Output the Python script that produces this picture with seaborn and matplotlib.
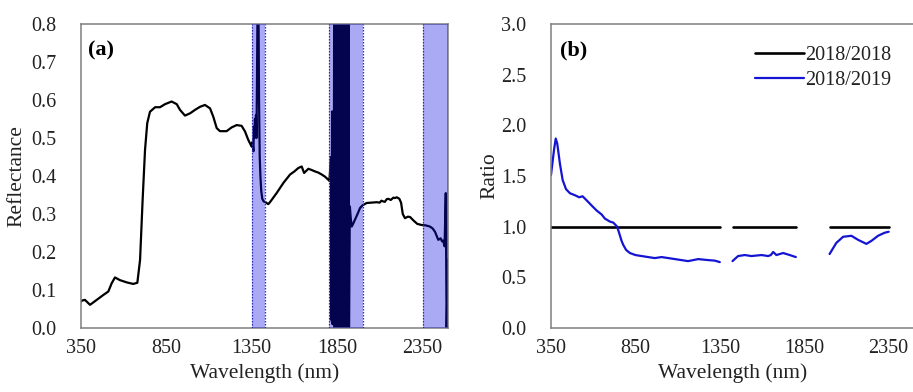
import numpy as np
import pandas as pd
import matplotlib
matplotlib.use("Agg")
import matplotlib.pyplot as plt
from matplotlib.lines import Line2D
import seaborn as sns

# ---------------- data ----------------
# Panel (a): reflectance spectrum
wl_a = [350, 354, 373, 403, 442, 481, 510, 530, 549, 578, 618, 656, 680, 696, 711, 725, 738, 754,
        784, 813, 842, 881, 911, 930, 959, 989, 1018, 1047, 1076, 1106, 1125, 1145, 1164, 1203,
        1233, 1262, 1291, 1311, 1330, 1350,
        1355, 1360, 1363, 1366, 1369, 1372, 1375, 1378, 1381, 1384, 1387, 1390, 1393, 1397, 1401,
        1406, 1412, 1420, 1428, 1438, 1447, 1457, 1496, 1536, 1575, 1600, 1623, 1643, 1657, 1682,
        1700, 1721, 1740, 1760, 1780, 1799, 1805, 1815,
        1818, 1821, 1824, 1827, 1830, 1833, 1836, 1839, 1842, 1845, 1848, 1851, 1854, 1857, 1860,
        1863, 1866, 1869, 1872, 1875, 1878, 1881, 1884, 1887, 1890, 1893, 1896, 1899, 1902, 1905,
        1908, 1911, 1914, 1917, 1920,
        1925, 1930, 1936, 1945, 1955, 1970, 1985, 2000, 2024, 2050, 2082, 2100, 2110, 2121, 2130,
        2141, 2150, 2165, 2180, 2190, 2200, 2215, 2225, 2235, 2248, 2265, 2278, 2300, 2320, 2346,
        2370, 2394, 2410, 2424, 2443, 2457, 2465, 2472, 2480, 2487, 2492, 2500]
refl_a = [0.069, 0.072, 0.074, 0.061, 0.074, 0.087, 0.096, 0.118, 0.133, 0.126, 0.120, 0.116, 0.119,
          0.179, 0.337, 0.468, 0.539, 0.569, 0.581, 0.581, 0.589, 0.596, 0.589, 0.574, 0.559, 0.565,
          0.574, 0.582, 0.587, 0.578, 0.556, 0.526, 0.518, 0.518, 0.528, 0.534, 0.532, 0.517, 0.495,
          0.477,
          0.49, 0.465, 0.53, 0.50, 0.55, 0.52, 0.56, 0.50, 0.65, 0.85, 0.95, 0.82, 0.60, 0.45, 0.40,
          0.36, 0.34, 0.333, 0.332, 0.329, 0.326, 0.331, 0.355, 0.382, 0.404, 0.412, 0.421, 0.425,
          0.408, 0.419, 0.416, 0.412, 0.409, 0.404, 0.398, 0.390, 0.387, 0.45,
          0.02, 0.57, 0.01, 0.56, 0.03, 0.85, 0.0, 0.85, 0.02, 0.85, 0.0, 0.85, 0.01, 0.85, 0.0,
          0.85, 0.02, 0.85, 0.0, 0.85, 0.01, 0.85, 0.0, 0.85, 0.02, 0.85, 0.0, 0.85, 0.01, 0.85,
          0.0, 0.85, 0.02, 0.85, 0.0,
          0.32, 0.29, 0.267, 0.275, 0.285, 0.300, 0.316, 0.323, 0.329, 0.330, 0.331, 0.330, 0.335,
          0.333, 0.332, 0.339, 0.340, 0.337, 0.343, 0.342, 0.344, 0.340, 0.330, 0.300, 0.289,
          0.293, 0.292, 0.282, 0.274, 0.271, 0.270, 0.267, 0.262, 0.253, 0.232, 0.236, 0.228,
          0.230, 0.215, 0.355, 0.0, 0.18]

# Excluded (noisy) bands shown shaded in panel (a)
band_lo = [1350, 1800, 2355]
band_hi = [1425, 2000, 2500]

# Panel (b): ratio spectra, three segments
seg_id_b = [1] * 35 + [2] * 12 + [3] * 10
wl_b = [350, 368, 378, 387, 403, 419, 439, 462, 492, 517, 537, 561, 590, 620, 650, 669, 699,
        719, 742, 755, 768, 778, 795, 817, 850, 887, 925, 965, 1005, 1084, 1162, 1222, 1281,
        1320, 1350,
        1425, 1458, 1498, 1537, 1597, 1636, 1652, 1666, 1685, 1725, 1764, 1800,
        2000, 2040, 2080, 2129, 2169, 2218, 2248, 2287, 2326, 2350]
ratio_1819 = [1.51, 1.76, 1.87, 1.82, 1.62, 1.46, 1.37, 1.33, 1.31, 1.29, 1.30, 1.26, 1.21, 1.16,
              1.12, 1.08, 1.05, 1.04, 1.00, 0.93, 0.86, 0.82, 0.77, 0.74, 0.72, 0.71, 0.70, 0.69,
              0.70, 0.68, 0.66, 0.68, 0.67, 0.665, 0.65,
              0.66, 0.71, 0.72, 0.71, 0.72, 0.71, 0.72, 0.75, 0.72, 0.74, 0.72, 0.70,
              0.73, 0.84, 0.90, 0.91, 0.87, 0.83, 0.86, 0.91, 0.94, 0.95]
# 2018/2018 reference line (segments)
seg_id_ref = [1, 1, 2, 2, 3, 3]
wl_ref = [350, 1350, 1425, 1800, 2000, 2350]
ratio_1818 = [1.0, 1.0, 1.0, 1.0, 1.0, 1.0]

legend_labels = ["2018/2018", "2018/2019"]
x_ticks = [350, 850, 1350, 1850, 2350]

# ---------------- style ----------------
sns.set_style("white")
plt.rcParams["font.family"] = ["Liberation Serif", "DejaVu Serif"]

W, H = 913, 392
fig = plt.figure(figsize=(W / 100, H / 100), dpi=100)
fig.patch.set_facecolor("white")

spine_c = "#7f7f7f"
txt_c = "#222222"
fs_tick = 14.5
fs_lab = 15.5

def px_axes(l, r, t, b):
    return fig.add_axes([l / W, 1 - b / H, (r - l) / W, (b - t) / H])

ax1 = px_axes(81, 448, 24, 328)
ax2 = px_axes(551, 914, 24, 328)

df_a = pd.DataFrame({"wl": wl_a, "refl": refl_a})
sns.lineplot(data=df_a, x="wl", y="refl", ax=ax1, color="black", lw=1.6,
             estimator=None, sort=False, zorder=2)
for lo, hi in zip(band_lo, band_hi):
    ax1.axvspan(lo, hi, facecolor=(12 / 255, 12 / 255, 226 / 255), alpha=0.35,
                edgecolor="none", zorder=3)
    ax1.axvline(lo, color="#2a2ab8", lw=0.9, ls=(0, (1.2, 1.2)), zorder=4)
    if hi < 2500:
        ax1.axvline(hi, color="#2a2ab8", lw=0.9, ls=(0, (1.2, 1.2)), zorder=4)
ax1.set_xlim(350, 2500)
ax1.set_ylim(0, 0.8)
ax1.set_yticks(np.arange(0, 0.81, 0.1))
ax1.set_yticklabels([f"{v:.1f}" for v in np.arange(0, 0.81, 0.1)])
ax1.set_ylabel("Reflectance", fontsize=fs_lab, color=txt_c, labelpad=3)
ax1.text(0.018, 0.945, "(a)", transform=ax1.transAxes, fontsize=16, fontweight="bold",
         va="top", ha="left", color="black")

df_b = pd.DataFrame({"wl": wl_b, "ratio": ratio_1819, "seg": seg_id_b})
df_r = pd.DataFrame({"wl": wl_ref, "ratio": ratio_1818, "seg": seg_id_ref})
blue = "#1414d2"
sns.lineplot(data=df_r, x="wl", y="ratio", units="seg", estimator=None, ax=ax2,
             color="black", lw=1.9)
sns.lineplot(data=df_b, x="wl", y="ratio", units="seg", estimator=None, ax=ax2,
             color=blue, lw=1.6)
ax2.set_xlim(350, 2500)
ax2.set_ylim(0, 3.0)
ax2.set_yticks(np.arange(0, 3.01, 0.5))
ax2.set_yticklabels([f"{v:.1f}" for v in np.arange(0, 3.01, 0.5)])
ax2.set_ylabel("Ratio", fontsize=fs_lab, color=txt_c, labelpad=1)
ax2.text(0.025, 0.945, "(b)", transform=ax2.transAxes, fontsize=16, fontweight="bold",
         va="top", ha="left", color="black")
handles = [Line2D([], [], color="black", lw=1.9), Line2D([], [], color=blue, lw=1.6)]
leg = ax2.legend(handles, legend_labels, loc="upper right", bbox_to_anchor=(0.975, 0.975),
                 frameon=False, fontsize=fs_tick, handlelength=2.4, handletextpad=0.05,
                 labelspacing=0.3, borderaxespad=0.3)
for t in leg.get_texts():
    t.set_color(txt_c)

for ax in (ax1, ax2):
    ax.set_xticks(x_ticks)
    ax.set_xticklabels([str(v) for v in x_ticks])
    ax.set_xlabel("Wavelength (nm)", fontsize=fs_lab, color=txt_c, labelpad=4)
    ax.tick_params(axis="both", direction="in", length=4, width=1, color=spine_c,
                   labelsize=fs_tick, labelcolor=txt_c)
    ax.tick_params(axis="x", pad=8)
    ax.tick_params(axis="y", pad=18)
    for s in ax.spines.values():
        s.set_color(spine_c)
        s.set_linewidth(1.1)
        s.set_visible(True)
    ax.set_facecolor("white")

fig.savefig("out.png", dpi=100, facecolor="white")
